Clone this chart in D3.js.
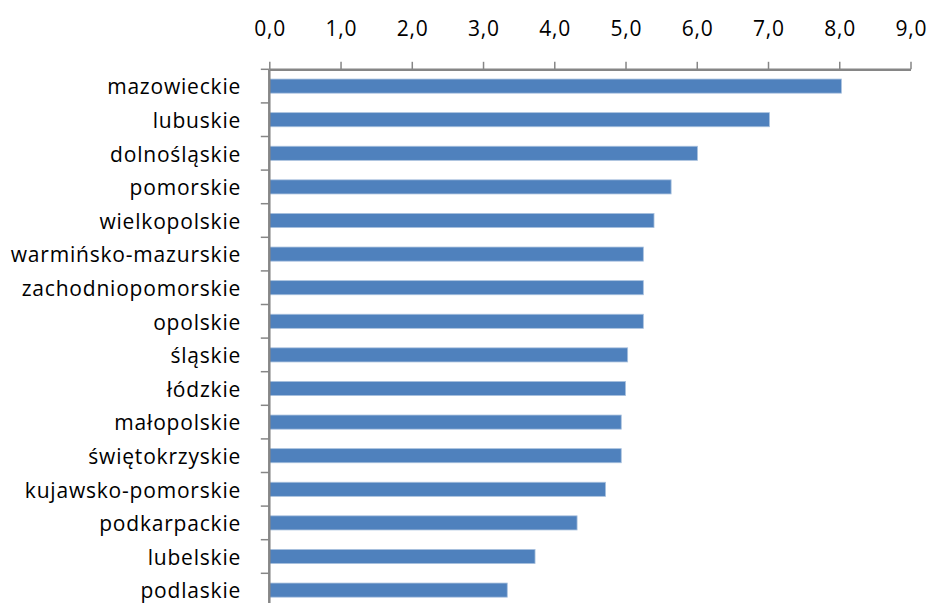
<!DOCTYPE html>
<html>
<head>
<meta charset="utf-8">
<script src="https://cdn.jsdelivr.net/npm/d3@7"></script>
<style>
  body { margin: 0; background: #fff; }
  text { font-family: "Open Sans", "Noto Sans", sans-serif; fill: #000; letter-spacing: 0.8px; }
</style>
</head>
<body>
<svg id="chart" width="929" height="603"></svg>
<script>
const svg = d3.select("#chart");

var regions = ["mazowieckie", "lubuskie", "dolnośląskie", "pomorskie", "wielkopolskie",
  "warmińsko-mazurskie", "zachodniopomorskie", "opolskie", "śląskie", "łódzkie",
  "małopolskie", "świętokrzyskie", "kujawsko-pomorskie", "podkarpackie", "lubelskie", "podlaskie"];
var values = [8.03, 7.02, 6.01, 5.64, 5.40, 5.25, 5.25, 5.25, 5.03, 5.00, 4.94, 4.94, 4.72, 4.32, 3.73, 3.34];
var xTicks = [0, 1, 2, 3, 4, 5, 6, 7, 8, 9];

var data = regions.map((r, i) => ({region: r, value: values[i]}));

var plotLeft = 269.3, plotTop = 69.3, plotRight = 910.5, band = 33.6;

var pl = d3.formatLocale({decimal: ",", thousands: " ", grouping: [3], currency: ["", " zł"]});
var fmt = pl.format(".1f");

var xScale = d3.scaleLinear()
  .domain([0, 9])
  .range([plotLeft, plotRight]);

var yScale = d3.scaleBand()
  .domain(regions)
  .range([plotTop, plotTop + band * regions.length])
  .paddingInner(0.58)
  .paddingOuter(0.29);

var axisColor = "#868686";

// bars
svg.append("g").selectAll("rect")
  .data(data)
  .enter().append("rect")
  .attr("x", xScale(0))
  .attr("y", d => yScale(d.region))
  .attr("width", d => xScale(d.value) - xScale(0))
  .attr("height", yScale.bandwidth())
  .attr("fill", "#4F81BD")
  .attr("stroke", "#A9C1DE")
  .attr("stroke-width", 0.8);

// top axis
var xAxis = d3.axisTop(xScale)
  .tickValues(xTicks)
  .tickFormat(fmt)
  .tickSize(7.5)
  .tickSizeOuter(0)
  .tickPadding(25.5);

var xAxisG = svg.append("g")
  .attr("transform", `translate(0,${plotTop})`)
  .call(xAxis);
xAxisG.select(".domain").attr("stroke", axisColor).attr("stroke-width", 2.5);
xAxisG.selectAll(".tick line").attr("stroke", axisColor).attr("stroke-width", 1.5);
xAxisG.selectAll(".tick text").style("font-size", "21px").attr("x", 0.4);

// left axis: labels at band centres, ticks on band borders
var bandStep = yScale.step();
var borders = d3.range(regions.length + 1).map(i => plotTop + i * bandStep);

var yG = svg.append("g");
yG.append("line")
  .attr("x1", plotLeft).attr("x2", plotLeft)
  .attr("y1", plotTop).attr("y2", 603)
  .attr("stroke", axisColor).attr("stroke-width", 2.5);

yG.selectAll(".ytick")
  .data(borders)
  .enter().append("line")
  .attr("class", "ytick")
  .attr("x1", plotLeft - 8.5).attr("x2", plotLeft)
  .attr("y1", d => d).attr("y2", d => d)
  .attr("stroke", axisColor).attr("stroke-width", 1.5);

yG.selectAll(".ylabel")
  .data(regions)
  .enter().append("text")
  .attr("class", "ylabel")
  .attr("x", plotLeft - 28.2)
  .attr("y", d => yScale(d) + yScale.bandwidth() / 2 + 8.2)
  .attr("text-anchor", "end")
  .style("font-size", "21px")
  .text(d => d);
</script>
</body>
</html>
